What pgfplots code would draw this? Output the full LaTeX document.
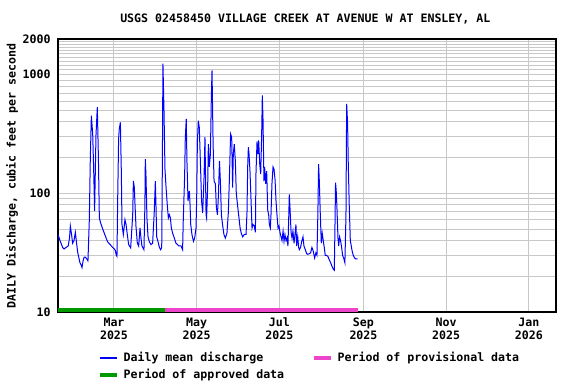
\documentclass[border=0pt]{standalone}
\usepackage{pgfplots}
\pgfplotsset{compat=1.18}
\usepackage{fontspec}
\setmainfont{DejaVu Sans Mono}
\setmonofont{DejaVu Sans Mono}
\definecolor{gridgray}{RGB}{200,200,200}
\definecolor{approved}{RGB}{0,153,0}
\definecolor{provisional}{RGB}{238,68,204}
\newcommand{\lf}{\fontsize{8.7}{10}\selectfont\bfseries}
\begin{document}
\begin{tikzpicture}
\path[use as bounding box] (0,0) rectangle (432pt,288pt);
\begin{axis}[
  at={(43.5pt,54pt)}, anchor=south west,
  scale only axis, width=373.5pt, height=204.75pt,
  ymode=log, ymin=10, ymax=2000,
  xmin=0, xmax=367.3,
  xtick={41.3,102.3,163.3,225.3,286.3,347.3},
  xticklabels={\strut Mar\\2025,\strut May\\2025,\strut Jul\\2025,\strut Sep\\2025,\strut Nov\\2025,\strut Jan\\2026},
  xticklabel style={align=center, font=\lf, yshift=0pt},
  ytick={10,100,1000,2000},
  yticklabels={10,100,1000,2000},
  yticklabel style={font=\lf, xshift=-2pt},
  minor ytick={20,30,40,50,60,70,80,90,200,300,400,500,600,700,800,900,1100,1200,1300,1400,1500,1600,1700,1800,1900},
  grid=both,
  major grid style={gridgray, line width=0.75pt},
  minor grid style={gridgray, line width=0.75pt},
  major tick length=0pt, minor tick length=0pt,
  axis line style={black, line width=1pt},
  /pgf/number format/assume math mode=true,
]
\addplot[blue, line width=0.75pt] coordinates {
(0,45) (1.5,40) (3.4,35) (4.5,34) (5.9,35) (7.5,36) (8.5,42) (9.1,53) (10,45) (10.8,38)
(11.8,40) (12.8,47) (13.7,38) (14.5,32) (15.3,29) (16.2,26) (17.0,25) (17.7,23.7) (18.5,27) (19.3,29)
(20.2,29) (21.2,28) (22.1,27) (23.1,60) (23.8,188) (24.6,451) (25.6,316) (26.3,160) (27.0,71) (28.0,306)
(29.0,532) (29.8,200) (30.5,62) (31.5,56) (33,50) (34.5,45) (35.5,42) (36.6,39) (38.5,37) (40.3,35)
(41.5,34) (42.3,33) (43.0,30) (43.5,29.4) (44.0,86) (44.7,287) (45.2,348) (46.0,397) (46.7,154) (47.2,54.6)
(48.2,45) (49.4,60) (50.2,54.6) (51.1,45) (52.1,37) (53.6,34.7) (55.1,66) (55.6,127) (56.3,112) (56.8,80.6)
(57.5,53) (58.5,38.2) (59.5,36) (60.5,51) (61.2,42) (61.9,36) (63.4,33.5) (64.1,80) (64.4,194) (64.9,140)
(65.6,62) (66.4,43) (67.4,39) (68.6,37) (69.8,38) (71.0,70) (71.8,127) (72.3,76) (72.8,43) (73.8,39)
(74.8,35) (75.7,33.5) (76.5,35) (77.0,200) (77.4,1239) (78.2,483) (78.9,160) (79.7,112) (80.6,80) (81.4,62)
(82.1,66) (82.9,62) (83.6,51) (84.6,46) (85.8,42) (87.0,38) (88.2,37) (89.0,36) (90.7,36) (91.9,33.5)
(92.4,60) (93.4,140) (93.9,297) (94.6,424) (95.1,188) (95.9,86) (96.9,105) (97.4,80) (97.9,54.6) (98.8,45)
(99.9,39.4) (100.8,42) (101.8,51) (102.3,92) (102.8,269) (103.5,410) (104.2,360) (105.0,188) (105.9,86) (106.7,68.6)
(107.7,135) (108.4,297) (109.2,66) (109.6,62) (110.4,115) (110.9,260) (111.6,167) (112.4,214) (113.1,647) (113.6,1087)
(114.4,260) (115.1,127) (116.1,120) (116.8,76) (117.6,66) (118.3,95) (119.1,188) (119.8,123) (120.5,66) (121.5,53)
(122.4,45) (123.4,42) (124.6,46) (125.6,68) (126.3,120) (127.3,316) (128.1,297) (128.8,112) (129.3,214) (130.0,260)
(130.8,188) (131.5,100) (132.5,78) (133.5,62) (134.3,51) (135.2,46) (136.2,43) (137.4,45) (138.7,45) (139.4,70)
(139.9,167) (140.4,245) (140.9,214) (141.6,154) (142.4,86) (143.1,51) (143.8,54.6) (144.8,53) (145.6,47) (146.0,145)
(146.8,274) (147.5,214) (148.0,280) (148.8,176) (149.5,145) (150.2,306) (150.7,668) (151.2,424) (151.9,127) (152.4,167)
(153.2,120) (153.9,154) (154.7,72) (155.4,66) (155.9,54.6) (156.6,51) (157.1,66) (157.8,120) (158.6,167) (159.3,160)
(160.1,130) (160.8,86) (161.5,66) (162.3,51) (163.0,53) (163.7,47) (164.5,43) (165.2,40) (166.0,48) (166.7,39.4)
(167.4,45) (168.2,40) (168.9,42) (169.6,36) (170.1,58) (170.6,98) (171.1,76) (171.9,47) (172.6,42) (173.3,48)
(174.1,38) (174.8,45) (175.5,54.6) (176.0,36) (176.8,43) (177.5,35) (178.0,33.5) (178.9,35) (179.9,40) (180.7,43)
(181.4,36) (182.4,33.5) (183.4,31) (184.3,30.6) (185.3,31) (186.3,31.5) (187.3,35) (188.3,32.4) (189.3,28.5) (190.2,31.5)
(191.0,30) (191.7,70) (192.2,176) (192.7,130) (193.4,70) (194.2,38) (194.9,46) (195.7,39.4) (196.4,35) (197.1,30)
(198.1,30) (199.1,29.4) (200.1,27.5) (201.1,26) (202.0,24.4) (203.0,23) (203.8,22.5) (204.3,54.6) (204.7,123) (205.2,105)
(205.7,78) (206.5,42) (207.0,36) (207.7,43) (208.4,40) (209.2,35) (209.9,30) (210.7,28.5) (211.6,26) (212.4,66)
(212.9,568) (213.6,385) (214.1,176) (214.8,80) (215.6,40) (216.3,36) (217.0,32.4) (217.8,30) (218.8,28.5) (219.7,28)
(221.0,28)
};
\addplot[approved, line width=3pt] coordinates {(0,10.45) (79,10.45)};
\addplot[provisional, line width=3pt] coordinates {(79,10.45) (221.5,10.45)};
\end{axis}
\node[font=\lf] at (229pt,273.75pt) {USGS 02458450 VILLAGE CREEK AT AVENUE W AT ENSLEY, AL};
\node[font=\lf, rotate=90] at (9pt,156pt) {DAILY Discharge, cubic feet per second};
\draw[blue, line width=1pt] (75pt,19.5pt) -- (88pt,19.5pt);
\node[font=\lf, anchor=west, inner sep=0pt] at (92.5pt,19.5pt) {Daily mean discharge};
\draw[provisional, line width=3pt] (235.5pt,19.5pt) -- (248.5pt,19.5pt);
\node[font=\lf, anchor=west, inner sep=0pt] at (253pt,19.5pt) {Period of provisional data};
\draw[approved, line width=3pt] (75pt,6.75pt) -- (88pt,6.75pt);
\node[font=\lf, anchor=west, inner sep=0pt] at (92.5pt,6.75pt) {Period of approved data};
\end{tikzpicture}
\end{document}
